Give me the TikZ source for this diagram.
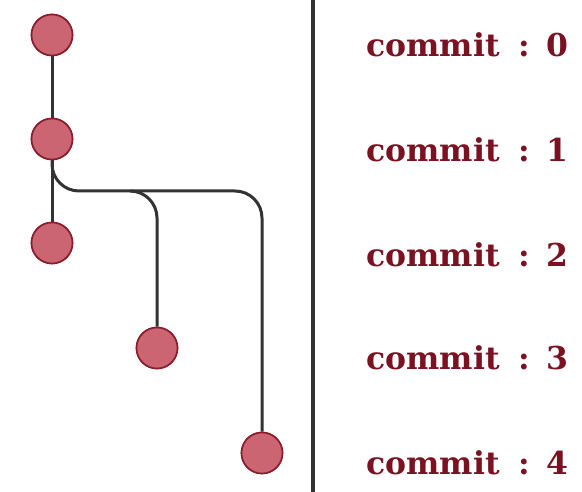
\documentclass[tikz,border=0pt]{standalone}
\usepackage{fontspec}
\newfontfamily\labfont{DejaVu Serif}
\definecolor{cfill}{HTML}{CB6571}
\definecolor{cedge}{HTML}{8A1C2C}
\definecolor{ctext}{HTML}{7A1222}
\definecolor{cline}{HTML}{333333}
\newcommand{\commitlab}[1]{commit\hspace{19pt}:\hspace{16pt}#1}
\begin{document}
\begin{tikzpicture}[x=1pt,y=-1pt,
  commitnode/.style={circle,draw=cedge,fill=cfill,line width=1.6pt,minimum size=41pt,inner sep=0pt},
  branch/.style={draw=cline,line width=3pt,rounded corners=27pt},
  lab/.style={text=ctext,font=\labfont\bfseries\fontsize{31.5}{34}\selectfont,anchor=base west,inner sep=0pt}]
\useasboundingbox (0,0) rectangle (582,492);
\node[commitnode] (c0) at (52,35) {};
\node[commitnode] (c1) at (52,139) {};
\node[commitnode] (c2) at (52,243) {};
\node[commitnode] (c3) at (157,348) {};
\node[commitnode] (c4) at (262,453) {};
\coordinate (top) at (313,0);
\coordinate (bot) at (313,492);
\draw[branch] (c0) -- (c1);
\draw[branch] (c1) -- (c2);
\draw[branch] (c1.south) -- (52,191) -- (262,191) -- (c4.north);
\draw[branch] (130,191) -- (157,191) -- (c3.north);
\draw[draw=cline,line width=4pt] (top) -- (bot);
\node[lab] (l0) at (366,57) {\commitlab{0}};
\node[lab] (l1) at (366,162) {\commitlab{1}};
\node[lab] (l2) at (366,267) {\commitlab{2}};
\node[lab] (l3) at (366,370) {\commitlab{3}};
\node[lab] (l4) at (366,474) {\commitlab{4}};
\node[commitnode] at (c0) {};
\node[commitnode] at (c1) {};
\node[commitnode] at (c2) {};
\node[commitnode] at (c3) {};
\node[commitnode] at (c4) {};
\end{tikzpicture}
\end{document}
